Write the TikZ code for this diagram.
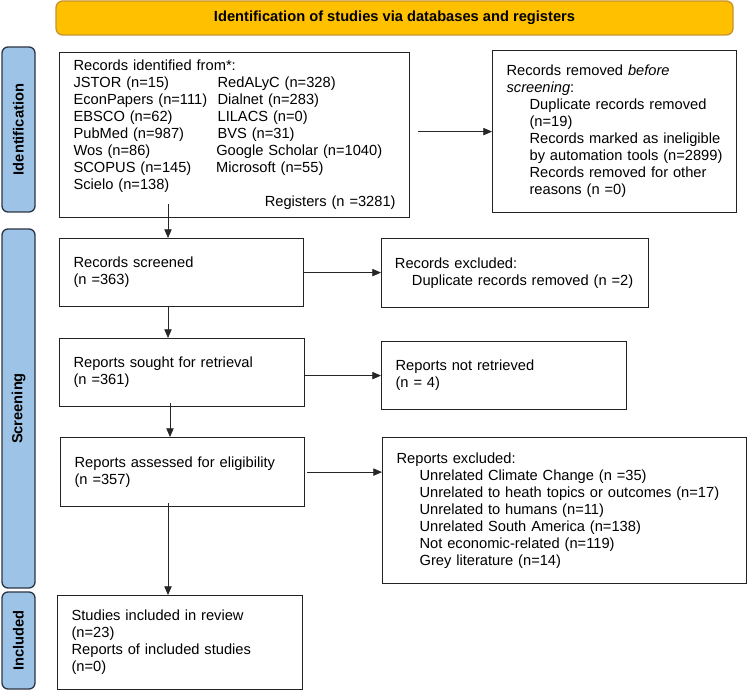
\documentclass[tikz,border=0pt]{standalone}
\usepackage{fontspec}
\setmainfont{Liberation Sans}
\usetikzlibrary{arrows.meta,calc}
\definecolor{bannerfill}{HTML}{FFC000}
\definecolor{bannerdraw}{HTML}{C8922E}
\definecolor{labfill}{HTML}{9DC3E6}
\definecolor{labdraw}{HTML}{2B3544}
\definecolor{boxdraw}{HTML}{222222}
\begin{document}
\begin{tikzpicture}[x=0.75pt,y=-0.75pt,
  every node/.style={font=\fontsize{11}{12.75}\selectfont},
  box/.style={draw=boxdraw, line width=0.9pt, anchor=north west, align=left, inner xsep=10.5pt, inner ysep=0pt},
  banner/.style={draw=bannerdraw, fill=bannerfill, line width=1pt, rounded corners=5pt, font=\fontsize{11}{12.75}\selectfont\bfseries, inner sep=0pt},
  lab/.style={draw=labdraw, fill=labfill, line width=1pt, rounded corners=4.5pt, rotate=90, font=\fontsize{11}{12.75}\selectfont\bfseries, inner sep=0pt, minimum height=24.75pt},
  arr/.style={draw=black!85, line width=0.6pt, -{Triangle[length=6.5pt,width=5.5pt]}}
]
\useasboundingbox (0,0) rectangle (748,691);

% banner
\node[banner, minimum width=507.75pt, minimum height=25.5pt] (banner) at (394.5,18) {Identification of studies via databases and registers};

% side labels
\node[lab, minimum width=123.75pt] (lid) at (18.5,129.5) {Identification};
\node[lab, minimum width=269.25pt] (lsc) at (18.5,408.5) {Screening};
\node[lab, minimum width=72.75pt] (lin) at (18.5,640.5) {Included};

% boxes
\node[box, text width=241.5pt, minimum height=123.75pt] (ident) at (59,52) {Records identified from*:\\
\makebox[108pt][l]{JSTOR (n=15)}RedALyC (n=328)\\
\makebox[108pt][l]{EconPapers (n=111)}Dialnet (n=283)\\
\makebox[108pt][l]{EBSCO (n=62)}LILACS (n=0)\\
\makebox[108pt][l]{PubMed (n=987)}BVS (n=31)\\
\makebox[107pt][l]{Wos (n=86)}Google Scholar (n=1040)\\
\makebox[107pt][l]{SCOPUS (n=145)}Microsoft (n=55)\\
Scielo (n=138)\\
\mbox{}\hfill Registers (n =3281)};

\node[box, text width=162pt, minimum height=121.5pt] (removed) at (492,50) {Records removed \textit{before}\\
\textit{screening}:\\
\hspace*{17.25pt}\mbox{Duplicate records removed}\\
\hspace*{17.25pt}(n=19)\\
\hspace*{17.25pt}\mbox{Records marked as ineligible}\\
\hspace*{17.25pt}\mbox{by automation tools (n=2899)}\\
\hspace*{17.25pt}\mbox{Records removed for other}\\
\hspace*{17.25pt}reasons (n =0)};

\node[box, text width=162pt, minimum height=51pt] (screened) at (59,238) {Records screened\\(n =363)};
\node[box, text width=180pt, minimum height=51.75pt, inner xsep=10pt] (recexcl) at (381,238) {Records excluded:\\
\hspace*{12.75pt}\mbox{Duplicate records removed (n =2)}};

\node[box, text width=162.75pt, minimum height=51pt] (sought) at (59,338) {Reports sought for retrieval\\(n =361)};
\node[box, text width=162.75pt, minimum height=51pt] (notret) at (381,341) {Reports not retrieved\\(n = 4)};

\node[box, text width=162pt, minimum height=51.75pt] (assessed) at (60,437) {Reports assessed for eligibility\\(n =357)};
\node[box, text width=252pt, minimum height=109.5pt] (repexcl) at (382,437) {Reports excluded:\\
\hspace*{17.25pt}\mbox{Unrelated Climate Change (n =35)}\\
\hspace*{17.25pt}\mbox{Unrelated to heath topics or outcomes (n=17)}\\
\hspace*{17.25pt}\mbox{Unrelated to humans (n=11)}\\
\hspace*{17.25pt}\mbox{Unrelated South America (n=138)}\\
\hspace*{17.25pt}\mbox{Not economic-related (n=119)}\\
\hspace*{17.25pt}\mbox{Grey literature (n=14)}};

\node[box, text width=162.75pt, minimum height=70.5pt] (included) at (57,595) {Studies included in review\\(n=23)\\Reports of included studies\\(n=0)};

% vertical connectors
\draw[arr] ($(ident.south west)+(109,-14)$) -- ($(screened.north west)+(109,0)$);
\draw[arr] ($(screened.south west)+(109,0)$) -- ($(sought.north west)+(109,0)$);
\draw[arr] ($(sought.south west)+(111,-4)$) -- ($(assessed.north west)+(110,0)$);
\draw[arr] ($(assessed.south west)+(108,-4)$) -- ($(included.north west)+(111,0)$);

% horizontal connectors
\draw[arr] ($(ident.east |- removed.west)+(8,0)$) -- (removed.west);
\draw[arr] (screened.east) -- (screened.east -| recexcl.west);
\draw[arr] (sought.east |- notret.west) -- (notret.west);
\draw[arr] ($(assessed.east)+(2,0)$) -- (assessed.east -| repexcl.west);
\end{tikzpicture}
\end{document}
